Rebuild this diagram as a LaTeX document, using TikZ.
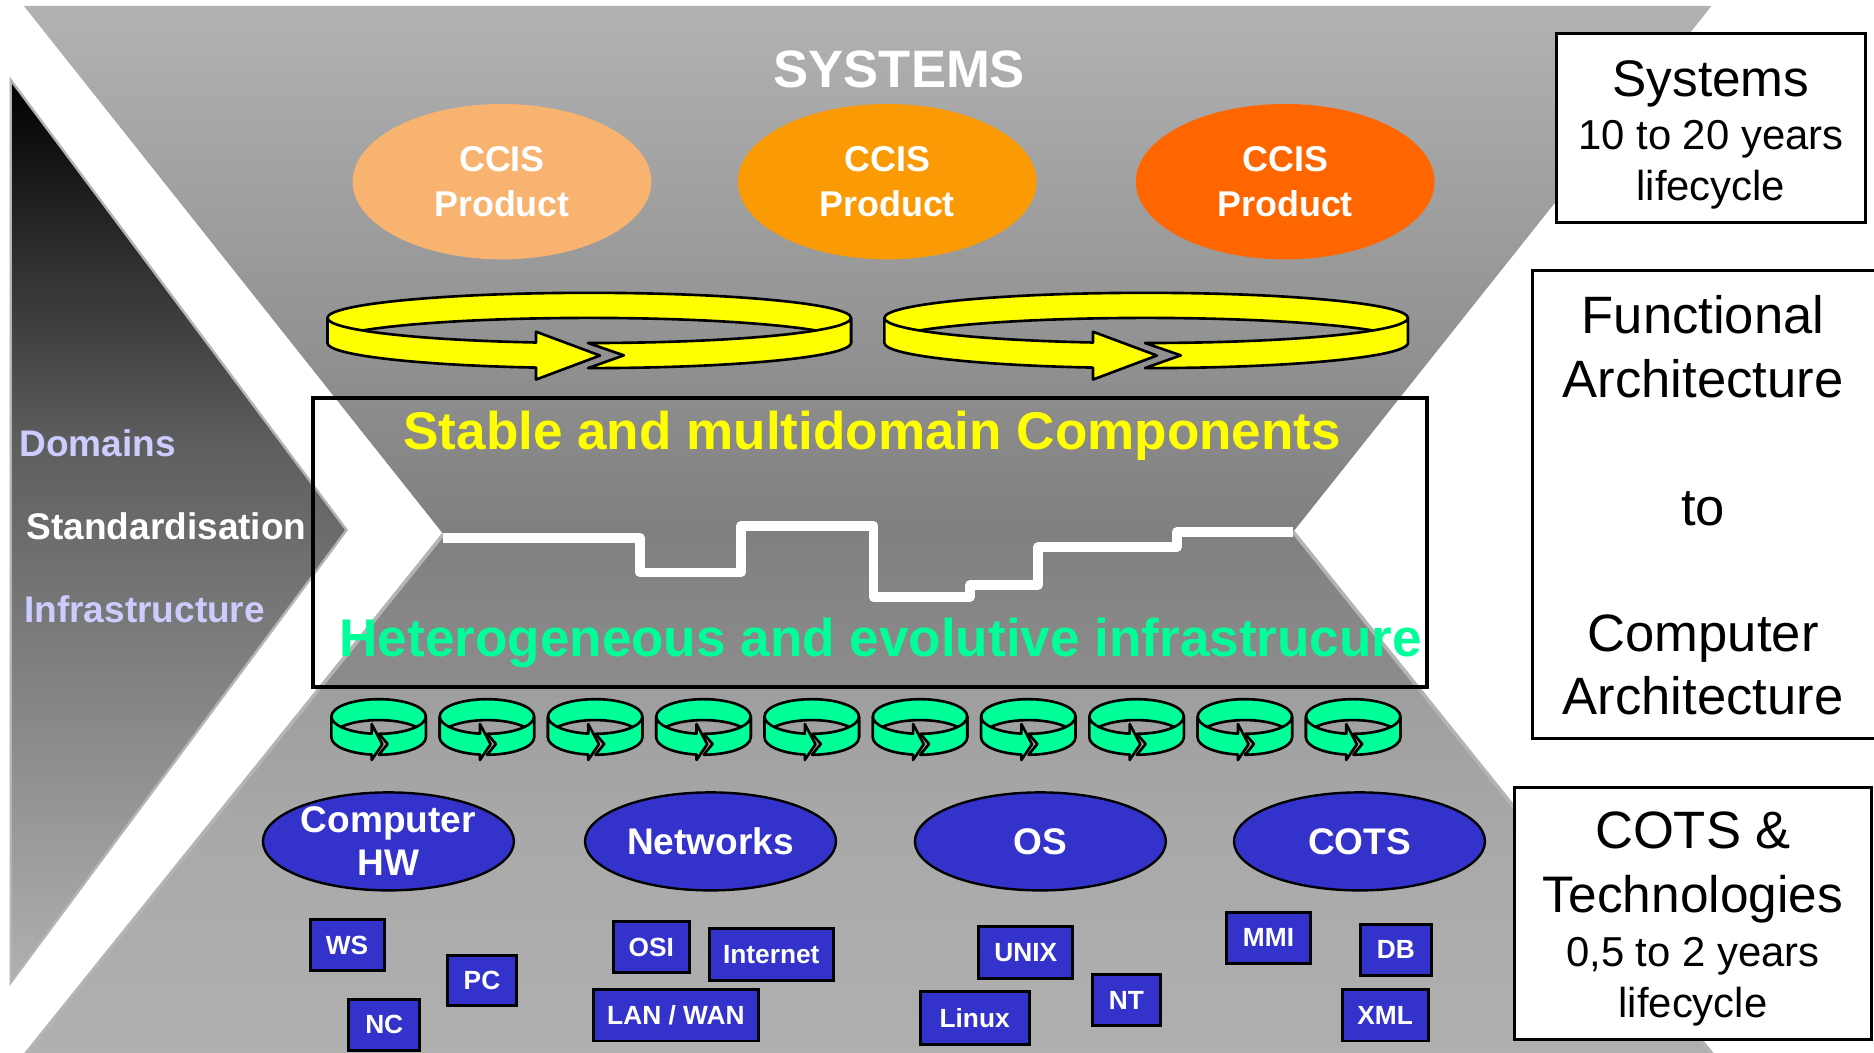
\documentclass[tikz,border=0pt]{standalone}
\usepackage{fontspec}
\setmainfont{Liberation Sans}
\usetikzlibrary{shapes.geometric}

% greys of the funnel and of the side chevron
\definecolor{fgB2}{HTML}{B2B2B2}
\definecolor{fg80}{HTML}{808080}
\definecolor{fg8C}{HTML}{8C8C8C}
\definecolor{fg9E}{HTML}{9E9E9E}
\definecolor{fgA9}{HTML}{A9A9A9}
\definecolor{fgB0}{HTML}{B0B0B0}
\definecolor{ch5E}{HTML}{5E5E5E}
\definecolor{chB0}{HTML}{B0B0B0}
\definecolor{edgegray}{HTML}{B4B4B4}
% fills
\definecolor{ccisA}{HTML}{F7B36F}
\definecolor{ccisB}{HTML}{FA9A05}
\definecolor{ccisC}{HTML}{FF6600}
\definecolor{ringyellow}{HTML}{FFFF00}
\definecolor{ringgreen}{HTML}{00FF99}
\definecolor{techblue}{HTML}{3333CC}
\definecolor{lav}{HTML}{CCCCFF}

% vertical shadings (middle 25bp..75bp span the path's height, top = 75bp)
\pgfdeclareverticalshading{funnelgray}{100bp}{color(0bp)=(fgB0); color(25bp)=(fgB0); color(35.7bp)=(fgA9); color(42.68bp)=(fg9E); color(42.97bp)=(fg8C); color(50.14bp)=(fg80); color(75bp)=(fgB2); color(100bp)=(fgB2)}
\pgfdeclareverticalshading{chevshade}{100bp}{color(0bp)=(chB0); color(25bp)=(chB0); color(54.87bp)=(ch5E); color(75bp)=(black); color(100bp)=(black)}

% a 3D looping band: back wall, then the front wall split by an arrow head
% geometry comes from \Rrx \Rry \Rh \Rbase \Rtip \Rnotch \Rapex \Rup \Rdown
\newcommand\loopring[3]{%
  \pgfmathsetmacro\rgTb{acos(\Rbase/\Rrx)}%
  \pgfmathsetmacro\rgTn{acos(\Rnotch/\Rrx)}%
  \pgfmathsetmacro\rgTt{acos(\Rtip/\Rrx)}%
  \pgfmathsetmacro\rgTa{acos(\Rapex/\Rrx)}%
  \pgfmathsetmacro\rgYb{#2+\Rry*sin(\rgTb)}%
  \pgfmathsetmacro\rgYn{#2+\Rry*sin(\rgTn)}%
  \pgfmathsetmacro\rgYt{#2+\Rry*sin(\rgTt)+\Rh/2}%
  \pgfmathsetmacro\rgYa{#2+\Rry*sin(\rgTa)+\Rh/2}%
  \filldraw[ringline, fill=#3] (#1-\Rrx,#2)
    arc[start angle=180, end angle=360, x radius=\Rrx, y radius=\Rry]
    -- ++(0,\Rh)
    arc[start angle=360, end angle=180, x radius=\Rrx, y radius=\Rry] -- cycle;
  \filldraw[ringline, fill=#3] (#1-\Rrx,#2)
    arc[start angle=180, end angle=\rgTb, x radius=\Rrx, y radius=\Rry]
    -- (#1+\Rbase,\rgYb-\Rup) -- (#1+\Rtip,\rgYt)
    -- (#1+\Rbase,\rgYb+\Rh+\Rdown) -- (#1+\Rbase,\rgYb+\Rh)
    arc[start angle=\rgTb, end angle=180, x radius=\Rrx, y radius=\Rry] -- cycle;
  \filldraw[ringline, fill=#3] (#1+\Rnotch,\rgYn)
    arc[start angle=\rgTn, end angle=0, x radius=\Rrx, y radius=\Rry]
    -- ++(0,\Rh)
    arc[start angle=0, end angle=\rgTn, x radius=\Rrx, y radius=\Rry]
    -- (#1+\Rapex,\rgYa) -- cycle;
}

\begin{document}
\begin{tikzpicture}[x=1pt, y=-1pt,
  ringline/.style={draw=black, line width=2.2, line join=round},
  prodell/.style={ellipse, minimum width=250, minimum height=130, inner sep=0,
    text=white, align=center, font=\bfseries\fontsize{30}{37.4}\selectfont},
  techell/.style={ellipse, draw=black, line width=2, fill=techblue,
    minimum width=210, minimum height=82, inner sep=0, text=white,
    align=center, font=\bfseries\fontsize{31}{36}\selectfont},
  techbox/.style={rectangle, draw=black, line width=2.5, fill=techblue,
    inner sep=0, text=white, font=\bfseries\fontsize{22}{26}\selectfont},
  infobox/.style={rectangle, draw=black, line width=2.5, fill=white, inner sep=0},
  boxtext/.style={anchor=base, inner sep=0, text=black},
  sidelabel/.style={anchor=base west, inner sep=0, font=\bfseries\fontsize{31}{36}\selectfont},
  bigtitle/.style={anchor=base west, inner sep=0, font=\bfseries\fontsize{44.4}{50}\selectfont}]

\useasboundingbox (0,0) rectangle (1568,881);
\fill[white] (0,0) rectangle (1568,881);

% funnel: wide systems layer on top, infrastructure layer below
\shade[shading=funnelgray] (20,5) -- (1432,5) -- (1082,445) -- (1439,890)
  -- (15,890) -- (371,447) -- cycle;
\draw[edgegray, line width=3] (371,447) -- (15,890);
\draw[edgegray, line width=3] (1082,445) -- (1439,890);

% side chevron
\shade[shading=chevshade] (9,67) -- (290,443.5) -- (9,822) -- cycle;
\draw[edgegray, line width=2, line join=miter] (9,67) -- (290,443.5) -- (9,822) -- cycle;

% stepped boundary between components and infrastructure
\draw[white, line width=8, line join=round] (371,450) -- (535.5,450) -- (535.5,479)
  -- (620,479) -- (620,440) -- (731,440) -- (731,499.5) -- (811.6,499.5)
  -- (811.6,489.5) -- (868.5,489.5) -- (868.5,457.7) -- (984.8,457.7)
  -- (984.8,445) -- (1082,445);

% left labels
\node[sidelabel, text=lav] (domains) at (16,382) {Domains};
\node[sidelabel, text=white] (standard) at (22,451) {Standardisation};
\node[sidelabel, text=lav] (infra) at (20,521) {Infrastructure};

% systems layer
\node[anchor=base, inner sep=0, text=white, font=\bfseries\fontsize{44}{50}\selectfont]
  (systems) at (752.5,73.4) {SYSTEMS};
\node[prodell, fill=ccisA] (ccis1) at (420,152) {CCIS\\Product};
\node[prodell, fill=ccisB] (ccis2) at (742.3,152) {CCIS\\Product};
\node[prodell, fill=ccisC] (ccis3) at (1075.3,152) {CCIS\\Product};

% large yellow loops
\def\Rrx{219}\def\Rry{21}\def\Rh{21}
\def\Rbase{-44.5}\def\Rtip{9}\def\Rnotch{-1}\def\Rapex{29}\def\Rup{9}\def\Rdown{10}
\loopring{493}{266}{ringyellow}
\loopring{959}{266}{ringyellow}

% middle frame and its two titles
\node[draw=black, line width=3.5, minimum width=932, minimum height=241.5, inner sep=0]
  (frame) at (728,453.75) {};
\node[bigtitle, text=ringyellow] (stable) at (337.4,376.5) {Stable and multidomain Components};
\node[bigtitle, text=ringgreen] (hetero) at (284,549.4) {Heterogeneous and evolutive infrastrucure};

% small green loops
\def\Rrx{39.5}\def\Rry{14.5}\def\Rh{17.5}
\def\Rbase{-5.8}\def\Rtip{3.1}\def\Rnotch{0.2}\def\Rapex{7.6}\def\Rup{8}\def\Rdown{4.5}
\foreach \k in {0,...,9}{%
  \pgfmathsetmacro\gcx{316.8+90.6*\k}%
  \loopring{\gcx}{599.5}{ringgreen}%
}

% technology families
\node[techell] (hw) at (325,704) {Computer\\HW};
\node[techell] (net) at (594.5,704) {Networks};
\node[techell] (os) at (870.5,704) {OS};
\node[techell] (cots) at (1137.5,704) {COTS};

% technologies
\node[techbox, minimum width=62, minimum height=43] (ws) at (290.4,790.8) {WS};
\node[techbox, minimum width=57, minimum height=42] (pc) at (403.3,820.4) {PC};
\node[techbox, minimum width=59, minimum height=43] (nc) at (321.5,857.5) {NC};
\node[techbox, minimum width=64, minimum height=43] (osi) at (545,792.5) {OSI};
\node[techbox, minimum width=104, minimum height=44] (inet) at (645.3,798.7) {Internet};
\node[techbox, minimum width=138, minimum height=43] (lan) at (565.5,849.5) {LAN / WAN};
\node[techbox, minimum width=79, minimum height=44] (unix) at (858.2,796.9) {UNIX};
\node[techbox, minimum width=91, minimum height=44] (linux) at (815.5,852) {Linux};
\node[techbox, minimum width=57, minimum height=43] (nt) at (942.5,836.9) {NT};
\node[techbox, minimum width=70, minimum height=43] (mmi) at (1061.4,784.7) {MMI};
\node[techbox, minimum width=59, minimum height=43] (db) at (1167.9,794.7) {DB};
\node[techbox, minimum width=72, minimum height=43] (xml) at (1159,849.5) {XML};

% lifecycle boxes on the right
\node[infobox, minimum width=259, minimum height=158.5] (sysbox) at (1431.5,107.25) {};
\node[boxtext, font=\fontsize{43}{50}\selectfont] (sysA) at (1431.5,81) {Systems};
\node[boxtext, font=\fontsize{35}{40}\selectfont] (sysB) at (1431.5,125.2) {10 to 20 years};
\node[boxtext, font=\fontsize{35}{40}\selectfont] (sysC) at (1431.5,168) {lifecycle};

\node[infobox, minimum width=290, minimum height=391.5] (funcbox) at (1427,421.75) {};
\node[boxtext, font=\fontsize{44}{50}\selectfont] (funcA) at (1425,278.8) {Functional};
\node[boxtext, font=\fontsize{44}{50}\selectfont] (funcB) at (1425,332.5) {Architecture};
\node[boxtext, font=\fontsize{44}{50}\selectfont] (funcC) at (1425,440) {to};
\node[boxtext, font=\fontsize{44}{50}\selectfont] (funcD) at (1425,544.8) {Computer};
\node[boxtext, font=\fontsize{44}{50}\selectfont] (funcE) at (1425,598) {Architecture};

\node[infobox, minimum width=299, minimum height=211] (cotsbox) at (1416.5,764.5) {};
\node[boxtext, font=\fontsize{44}{50}\selectfont] (cotsA) at (1416.5,709.7) {COTS \&};
\node[boxtext, font=\fontsize{43}{50}\selectfont] (cotsB) at (1416.5,763.6) {Technologies};
\node[boxtext, font=\fontsize{35}{40}\selectfont] (cotsC) at (1416.5,809) {0,5 to 2 years};
\node[boxtext, font=\fontsize{35}{40}\selectfont] (cotsD) at (1416.5,851) {lifecycle};

\end{tikzpicture}
\end{document}
